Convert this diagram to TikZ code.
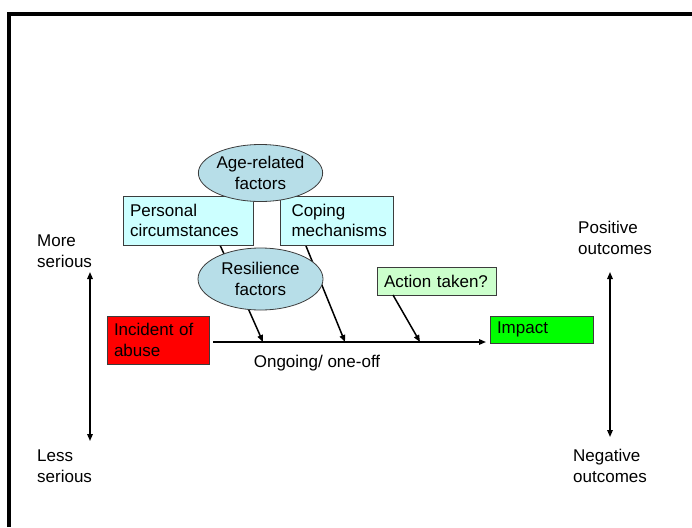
\documentclass[tikz,border=0pt]{standalone}
\usepackage{fontspec}
\setmainfont{Liberation Sans}
\usetikzlibrary{arrows.meta,shapes.geometric}
\definecolor{ellfill}{RGB}{183,222,232}
\definecolor{boxcyan}{RGB}{204,255,255}
\definecolor{boxgreen}{RGB}{204,255,204}
\definecolor{bordergray}{RGB}{60,60,60}
\tikzset{
  lbl/.style={font=\fontsize{17}{20.5}\selectfont, align=left, inner sep=0pt},
  factorbox/.style={draw=bordergray, line width=0.8pt, rectangle, font=\fontsize{17}{20.5}\selectfont,
     align=left, inner ysep=0pt, inner xsep=7pt, anchor=center},
  factorell/.style={draw=bordergray, line width=0.8pt, ellipse, fill=ellfill, inner sep=0pt,
     font=\fontsize{17}{20.5}\selectfont, align=center},
  conn/.style={line width=1.5pt, -{Triangle[length=7pt,width=5.5pt]}},
  dbl/.style={line width=1.5pt, {Triangle[length=7pt,width=5.5pt]}-{Triangle[length=7pt,width=5.5pt]}}
}
\begin{document}
\begin{tikzpicture}[x=1pt,y=-1pt]
\useasboundingbox (0,0) rectangle (692,527);
% frame
\draw[line width=4pt, line join=miter] (9,527) -- (9,14) -- (692,14);

% connectors that go behind the resilience ellipse
\coordinate (s1) at (220,245);
\coordinate (s2) at (306,246);
\coordinate (s3) at (393,295);
\coordinate (p1) at (263,342);
\coordinate (p2) at (345,342);
\coordinate (p3) at (420,342);
\coordinate (m0) at (213,342);
\coordinate (m1) at (486,342);
\draw[conn] (s1) -- (p1);
\draw[conn] (s2) -- (p2);

% boxes
\node[factorbox, fill=boxcyan, minimum width=130pt, minimum height=49pt, text width=120pt, inner xsep=5pt] (pers) at (188,220.5) {\hspace*{2pt}\mbox{Personal}\\\hspace*{2pt}\mbox{circumstances}};
\node[factorbox, fill=boxcyan, minimum width=113pt, minimum height=49pt, text width=103pt, inner xsep=5pt] (cope) at (336.5,220.5) {\hspace*{6.5pt}\mbox{Coping}\\\hspace*{6.5pt}\mbox{mechanisms}};
\node[factorell, minimum width=114pt, minimum height=57pt] (age) at (260.5,173) {Age-related\\factors};
\node[factorell, minimum width=125pt, minimum height=62pt] (res) at (260.5,279) {Resilience\\factors};

\node[factorbox, fill=boxgreen, minimum width=119pt, minimum height=28pt, text width=105pt] (act) at (436.5,281) {Action taken?};
\node[factorbox, fill=red, minimum width=102pt, minimum height=48pt, text width=88pt] (inc) at (158,340) {Incident of\\abuse};
\node[factorbox, fill=green, minimum width=103pt, minimum height=27pt, text width=89pt] (imp) at (541.5,329.5) {Impact};

\draw[conn] (s3) -- (p3);
\draw[conn] (m0) -- (m1);
\node[lbl] (ongo) at (317,363) {Ongoing/ one-off};

% vertical scales
\coordinate (lt) at (90,272);
\coordinate (lb) at (90,441);
\coordinate (rt) at (610,272);
\coordinate (rb) at (610,437);
\draw[dbl] (lt) -- (lb);
\draw[dbl] (rt) -- (rb);
\node[lbl, anchor=west] (more) at (37,251) {More\\serious};
\node[lbl, anchor=west] (less) at (37,466) {Less\\serious};
\node[lbl, anchor=west] (pos) at (578,238) {Positive\\outcomes};
\node[lbl, anchor=west] (neg) at (573,466) {Negative\\outcomes};
\end{tikzpicture}
\end{document}
